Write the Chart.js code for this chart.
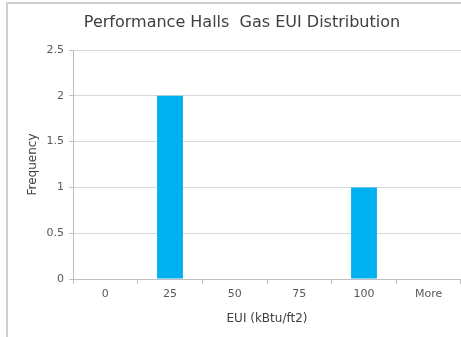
<!DOCTYPE html>
<html>
<head>
<meta charset="utf-8">
<script src="https://cdn.jsdelivr.net/npm/chart.js@4/dist/chart.umd.min.js"></script>
<style>
  html, body { margin: 0; padding: 0; background: #fff; }
  #wrap { position: relative; width: 461px; height: 337px; }
</style>
</head>
<body>
<div id="wrap"><canvas id="chartGasEUI"></canvas></div>
<script>
  // histogram bins and counts
  var binLabels = ['0', '25', '50', '75', '100', 'More'];
  var frequency = [0, 2, 0, 0, 1, 0];
  var yTicks = [0, 0.5, 1, 1.5, 2, 2.5];
  var chartTitle = 'Performance Halls  Gas EUI Distribution';

  var fontFam = "'DejaVu Sans', sans-serif";

  // frame lines (top + left) like the cropped excel chart border,
  // and the title, which sits a bit right of the canvas centre
  var framePlugin = {
    id: 'frame',
    beforeDraw: function (chart) {
      var c = chart.ctx;
      c.save();
      c.fillStyle = '#fff';
      c.fillRect(0, 0, chart.width, chart.height);
      c.strokeStyle = '#cfcfcf';
      c.lineWidth = 2;
      c.beginPath();
      c.moveTo(7, chart.height);
      c.lineTo(7, 3);
      c.lineTo(chart.width, 3);
      c.stroke();
      c.restore();
    },
    afterDraw: function (chart) {
      var c = chart.ctx;
      c.save();
      c.fillStyle = '#404040';
      c.font = '16px ' + fontFam;
      c.textAlign = 'center';
      c.textBaseline = 'middle';
      c.fillText(chartTitle, 242, 23);
      c.restore();
    }
  };

  var ctx = document.getElementById('chartGasEUI');
  new Chart(ctx, {
    type: 'bar',
    data: {
      labels: binLabels,
      datasets: [{
        label: 'Frequency',
        data: frequency,
        backgroundColor: '#00b0f0',
        barPercentage: 0.4,
        categoryPercentage: 1.0
      }]
    },
    options: {
      responsive: true,
      maintainAspectRatio: false,
      animation: false,
      layout: { padding: { left: 0, right: 0, top: 50, bottom: 0 } },
      scales: {
        x: {
          grid: {
            drawOnChartArea: false,
            drawTicks: true,
            tickLength: 5,
            color: '#bfbfbf'
          },
          border: { color: '#bfbfbf' },
          ticks: {
            color: '#595959',
            font: { family: fontFam, size: 11 },
            padding: 4,
            maxRotation: 0
          },
          title: {
            display: true,
            text: 'EUI (kBtu/ft2)',
            color: '#404040',
            font: { family: fontFam, size: 12 },
            padding: { top: 4, bottom: 11 }
          },
          afterFit: function (scale) { scale.height = 58; }
        },
        y: {
          min: 0,
          max: 2.5,
          afterBuildTicks: function (scale) {
            scale.ticks = yTicks.map(function (v) { return { value: v }; });
          },
          grid: {
            color: '#d9d9d9',
            drawTicks: true,
            tickLength: 4,
            tickColor: '#bfbfbf'
          },
          border: { color: '#bfbfbf' },
          ticks: {
            color: '#595959',
            font: { family: fontFam, size: 11 },
            padding: 5,
            callback: function (v) { return String(v); }
          },
          title: {
            display: true,
            text: 'Frequency',
            color: '#404040',
            font: { family: fontFam, size: 12 },
            padding: { top: 26, bottom: 0 }
          },
          afterFit: function (scale) { scale.width = 73; }
        }
      },
      plugins: {
        legend: { display: false },
        tooltip: { enabled: false },
        title: { display: false }
      }
    },
    plugins: [framePlugin]
  });
</script>
</body>
</html>
